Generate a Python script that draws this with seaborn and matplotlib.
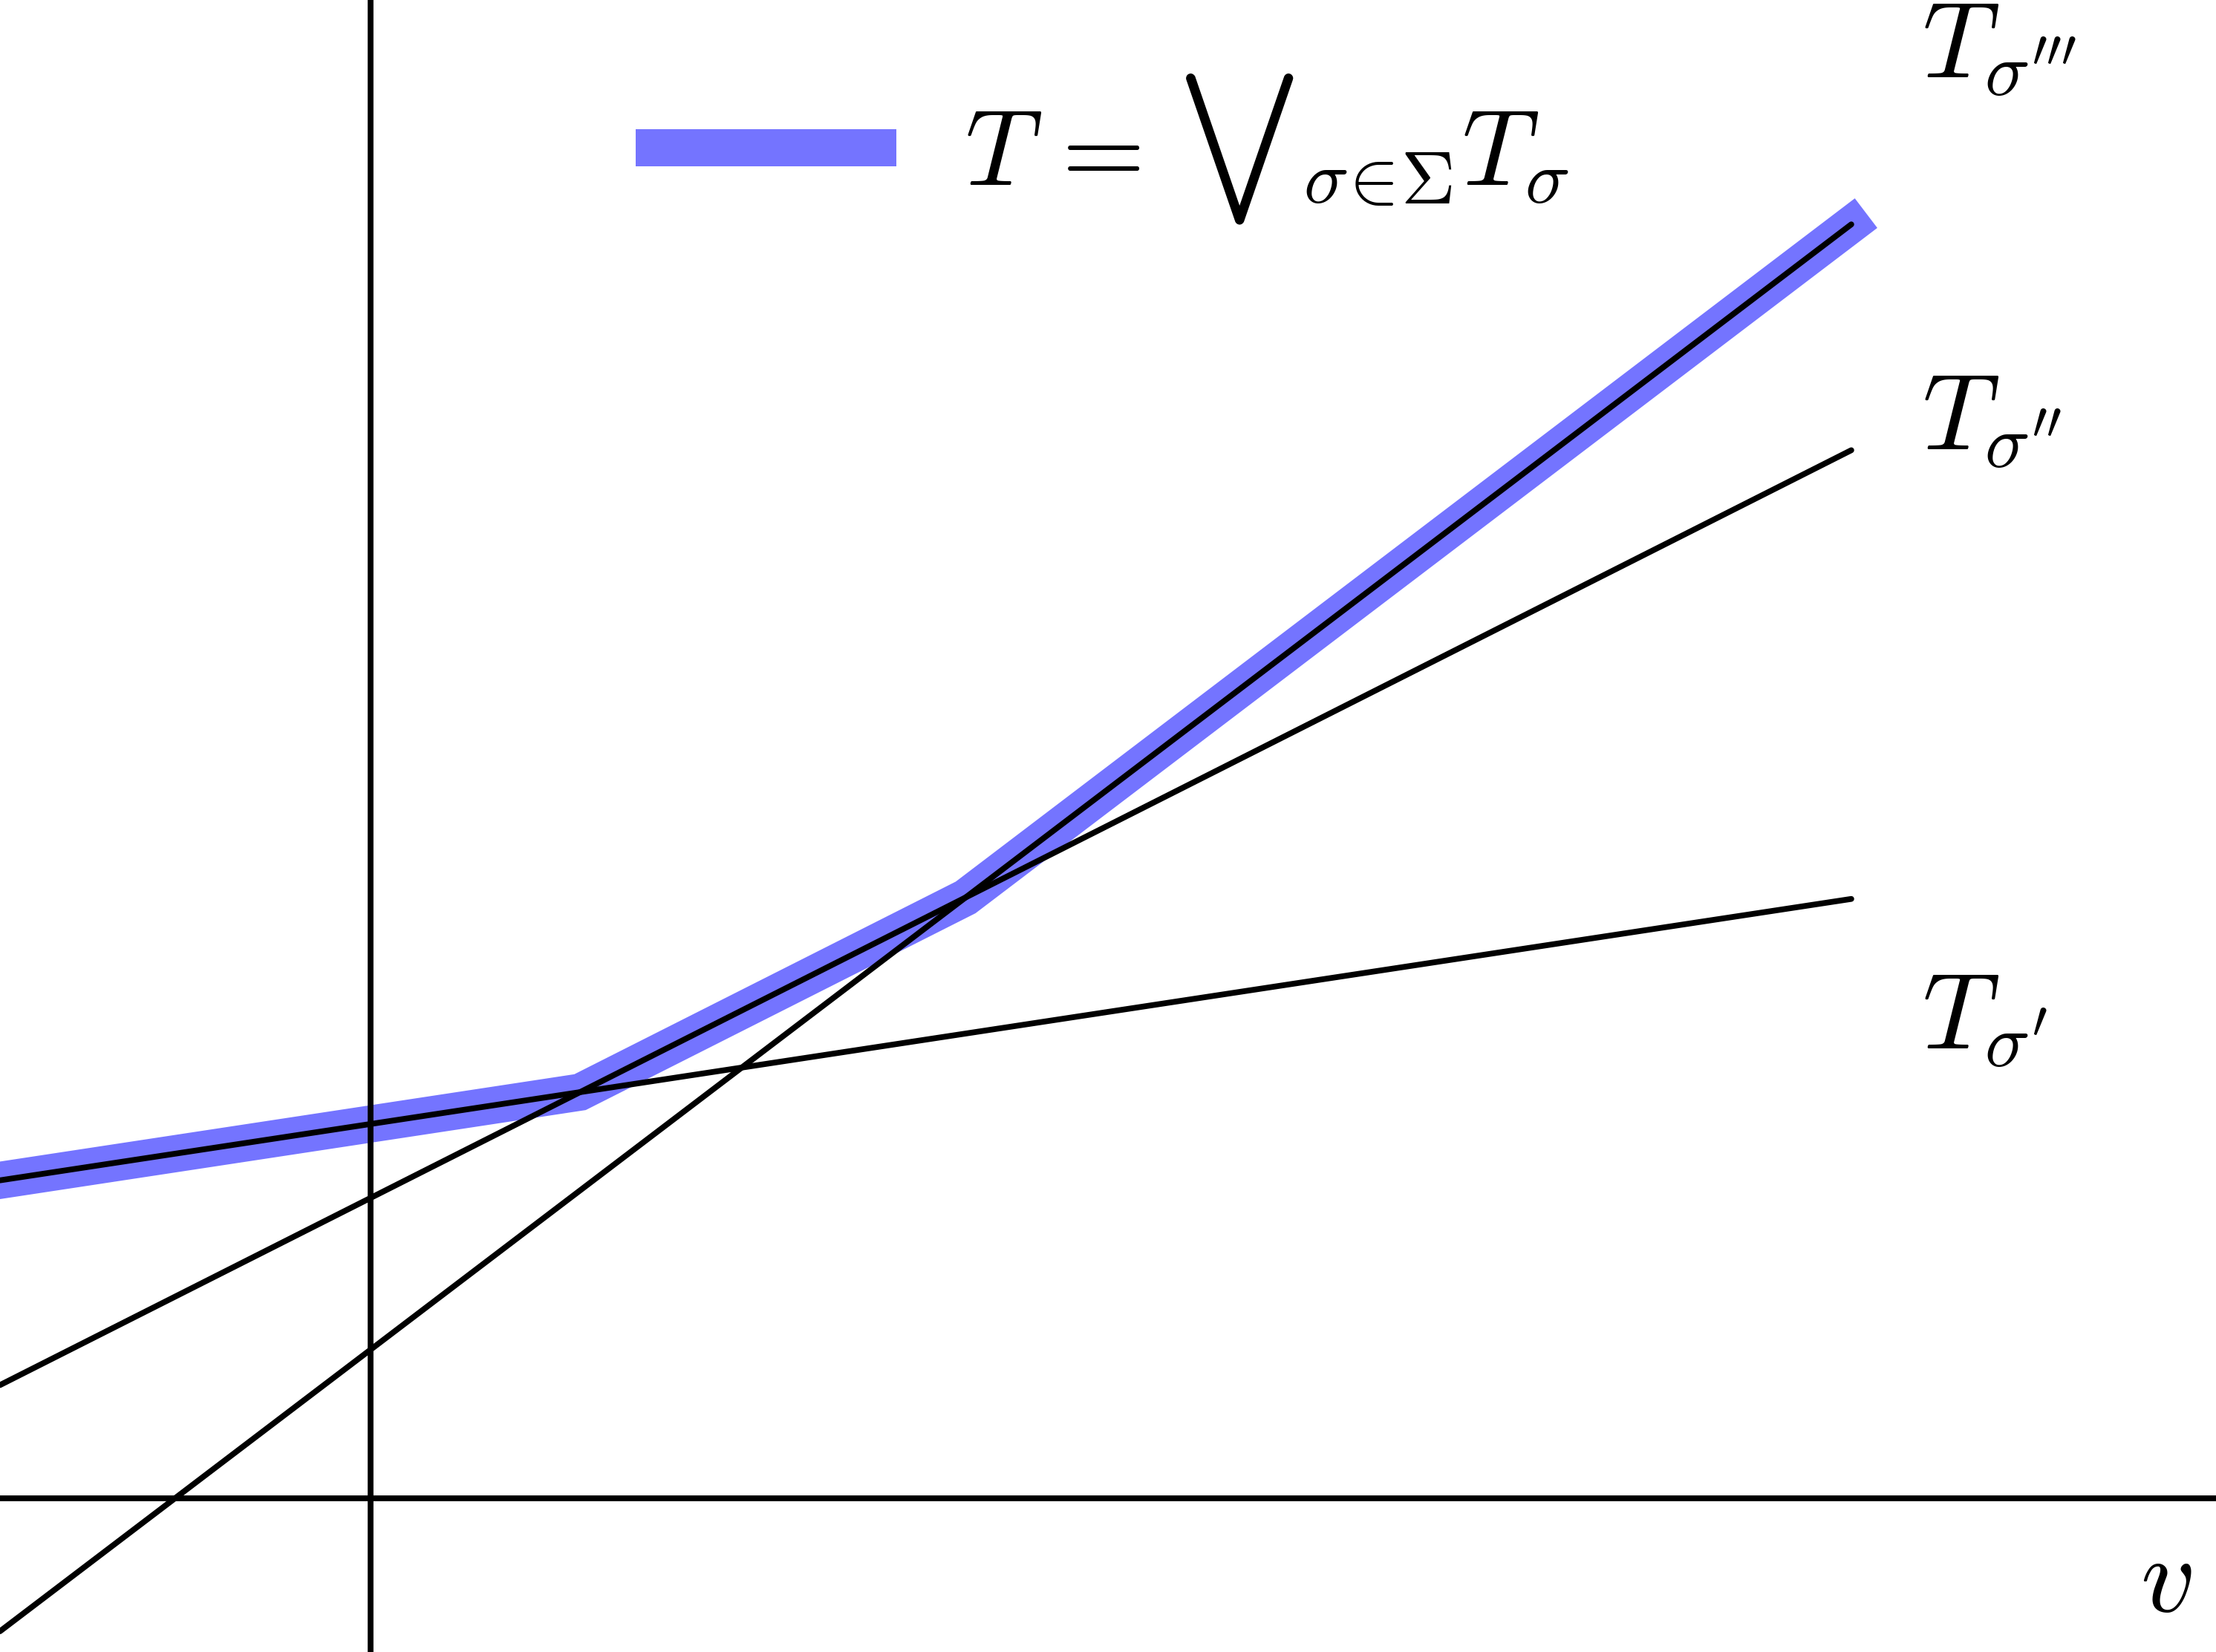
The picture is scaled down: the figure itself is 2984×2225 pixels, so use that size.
import matplotlib
matplotlib.use("Agg")
import matplotlib.pyplot as plt
import seaborn as sns
import pandas as pd
import numpy as np

# three affine functions T_sigma(v) = intercept + slope * v
line_names = ["T1", "T2", "T3"]
intercepts = [1.01, 0.81, 0.4]
slopes = [0.152, 0.505, 0.76]
v_range = [-1.0, 4.0]

sns.set_style("white")
plt.rcParams["mathtext.fontset"] = "cm"
plt.rcParams["font.family"] = ["DejaVu Sans"]
plt.rcParams["text.color"] = "black"

# build long frame for the black lines
rows = []
for name, b, m in zip(line_names, intercepts, slopes):
    for v in v_range:
        rows.append({"v": v, "T": b + m * v, "line": name})
lines_df = pd.DataFrame(rows)

# upper envelope T = max of all T_sigma, evaluated at the crossing points
kinks = []
for i in range(len(intercepts)):
    for j in range(i + 1, len(intercepts)):
        vk = (intercepts[j] - intercepts[i]) / (slopes[i] - slopes[j])
        if v_range[0] < vk < v_range[1]:
            kinks.append(vk)
v_grid = np.sort(np.array(v_range + kinks))
t_max = np.max([b + m * v_grid for b, m in zip(intercepts, slopes)], axis=0)
env_df = pd.DataFrame({"v": v_grid, "T": t_max})

fig = plt.figure(figsize=(14.92, 11.125), dpi=200)
ax = fig.add_axes([0, 0, 1, 1])

sns.lineplot(data=env_df, x="v", y="T", ax=ax, color="#7474FF", linewidth=18,
             solid_capstyle="projecting", solid_joinstyle="miter",
             label=r"$T\,=\,{\bigvee}_{\sigma\!\in\!\Sigma}T_\sigma$", zorder=1)
sns.lineplot(data=lines_df, x="v", y="T", units="line", estimator=None, ax=ax,
             color="black", linewidth=2.8, legend=False, zorder=3)

ax.axvline(0, color="black", linewidth=2.8, zorder=4)
ax.axhline(0, color="black", linewidth=2.8, zorder=4)

ax.set_xlim(-1, 4.985)
ax.set_ylim(-0.416, 4.046)
ax.axis("off")

fs = 52
ax.text(4.19, 3.836, r"$T_{\sigma'''}$", fontsize=fs, ha="left", va="baseline")
ax.text(4.19, 2.832, r"$T_{\sigma''}$", fontsize=fs, ha="left", va="baseline")
ax.text(4.19, 1.214, r"$T_{\sigma'}$", fontsize=fs, ha="left", va="baseline")
ax.text(4.78, -0.305, r"$v$", fontsize=fs, ha="left", va="baseline")

ax.legend(loc="center left", bbox_to_anchor=(463 / 1568, 1 - 106 / 1169),
          bbox_transform=fig.transFigure, frameon=False, fontsize=fs,
          handlelength=2.08, handletextpad=0.81, borderpad=0, borderaxespad=0)

fig.savefig("out.png", dpi=200)
